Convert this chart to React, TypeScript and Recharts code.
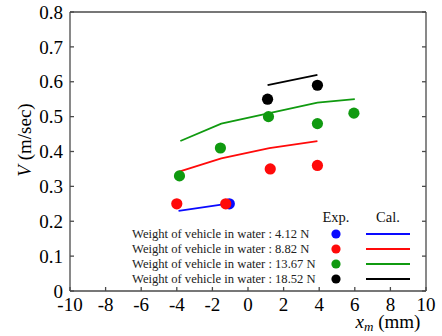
import { ComposedChart, Scatter, Line, XAxis, YAxis, CartesianGrid } from "recharts";

const xTicks = [-10, -8, -6, -4, -2, 0, 2, 4, 6, 8, 10];
const yTicks = [0, 0.1, 0.2, 0.3, 0.4, 0.5, 0.6, 0.7, 0.8];

// measured points (Exp.)
const exp412 = [{ x: -1.05, y: 0.25 }];
const exp882 = [
  { x: -4.0, y: 0.25 },
  { x: -1.25, y: 0.25 },
  { x: 1.25, y: 0.35 },
  { x: 3.9, y: 0.36 },
];
const exp1367 = [
  { x: -3.85, y: 0.33 },
  { x: -1.55, y: 0.41 },
  { x: 1.15, y: 0.5 },
  { x: 3.9, y: 0.48 },
  { x: 5.95, y: 0.51 },
];
const exp1852 = [
  { x: 1.1, y: 0.55 },
  { x: 3.9, y: 0.59 },
];

// calculated curves (Cal.)
const cal412 = [
  { x: -3.9, y: 0.23 },
  { x: -1.2, y: 0.25 },
];
const cal882 = [
  { x: -4.0, y: 0.34 },
  { x: -1.5, y: 0.38 },
  { x: 1.2, y: 0.41 },
  { x: 3.9, y: 0.43 },
];
const cal1367 = [
  { x: -3.8, y: 0.43 },
  { x: -1.5, y: 0.48 },
  { x: 1.2, y: 0.51 },
  { x: 3.9, y: 0.54 },
  { x: 6.0, y: 0.55 },
];
const cal1852 = [
  { x: 1.1, y: 0.59 },
  { x: 3.9, y: 0.62 },
];

const legendLabels = [
  "Weight of vehicle in water : 4.12 N",
  "Weight of vehicle in water : 8.82 N",
  "Weight of vehicle in water : 13.67 N",
  "Weight of vehicle in water : 18.52 N",
];

const BLUE = "#0a0aff";
const RED = "#ff0a0a";
const GREEN = "#109a10";
const BLACK = "#000000";
const colors = [BLUE, RED, GREEN, BLACK];

const FONT = "'Liberation Serif', 'Times New Roman', serif";
const AXIS = "#4a4a4a";

const dot = (color: string) => (props: any) =>
  <circle cx={props.cx} cy={props.cy} r={5.6} fill={color} />;

const series = [
  { exp: exp412, cal: cal412 },
  { exp: exp882, cal: cal882 },
  { exp: exp1367, cal: cal1367 },
  { exp: exp1852, cal: cal1852 },
];

export default function App() {
  const tickStyle = { fill: "#000", fontSize: 19, fontFamily: FONT };
  return (
    <div style={{ position: "fixed", left: 0, top: 0, width: 442, height: 336, background: "#fff" }}>
      <ComposedChart
        width={442}
        height={336}
        margin={{ top: 11, right: 15, left: 0, bottom: 0 }}
      >
        <CartesianGrid
          stroke="#c8c8c8"
          strokeDasharray="1 2"
          horizontalValues={yTicks}
          verticalValues={xTicks}
        />
        <XAxis
          xAxisId="b"
          type="number"
          dataKey="x"
          domain={[-10, 10]}
          ticks={xTicks}
          height={45}
          tickSize={-4}
          tickMargin={10.5}
          stroke={AXIS}
          strokeWidth={1.3}
          tick={tickStyle}
          allowDataOverflow
        />
        <XAxis
          xAxisId="t"
          orientation="top"
          type="number"
          domain={[-10, 10]}
          ticks={xTicks}
          height={1}
          tickSize={-4}
          tickFormatter={() => ""}
          stroke={AXIS}
          strokeWidth={1.3}
          allowDataOverflow
        />
        <YAxis
          yAxisId="l"
          type="number"
          dataKey="y"
          domain={[0, 0.8]}
          ticks={yTicks}
          width={70}
          tickSize={-4}
          tickMargin={11}
          stroke={AXIS}
          strokeWidth={1.3}
          tick={tickStyle}
          tickFormatter={(v: number) => (v === 0 ? "0" : v.toFixed(1))}
          allowDataOverflow
        />
        <YAxis
          yAxisId="r"
          orientation="right"
          type="number"
          domain={[0, 0.8]}
          ticks={yTicks}
          width={1}
          tickSize={-4}
          tickFormatter={() => ""}
          stroke={AXIS}
          strokeWidth={1.3}
          allowDataOverflow
        />
        {series.map((s, i) => (
          <Line
            key={"cal" + i}
            xAxisId="b"
            yAxisId="l"
            data={s.cal}
            dataKey="y"
            stroke={colors[i]}
            strokeWidth={1.8}
            dot={false}
            activeDot={false}
            type="linear"
            isAnimationActive={false}
          />
        ))}
        {series.map((s, i) => (
          <Scatter
            key={"exp" + i}
            xAxisId="b"
            yAxisId="l"
            data={s.exp}
            dataKey="y"
            fill={colors[i]}
            shape={dot(colors[i])}
            isAnimationActive={false}
          />
        ))}
      </ComposedChart>
      <svg
        width={442}
        height={336}
        style={{ position: "absolute", left: 0, top: 0, pointerEvents: "none" }}
      >
        <text
          transform="translate(31,140) rotate(-90)"
          textAnchor="middle"
          fontFamily={FONT}
          fontSize={19}
          fill="#000"
        >
          <tspan fontStyle="italic">V</tspan> (m/sec)
        </text>
        <text x={388} y={328} textAnchor="middle" fontFamily={FONT} fontSize={19} fill="#000">
          <tspan fontStyle="italic">x</tspan>
          <tspan fontStyle="italic" fontSize={13} dy={3}>m</tspan>
          <tspan dy={-3}> (mm)</tspan>
        </text>
        <text x={336} y={222} textAnchor="middle" fontFamily={FONT} fontSize={14.5} fill="#111">
          Exp.
        </text>
        <text x={388} y={222} textAnchor="middle" fontFamily={FONT} fontSize={14.5} fill="#111">
          Cal.
        </text>
        {legendLabels.map((lab, i) => {
          const cy = 234 + i * 15;
          return (
            <g key={lab}>
              <text x={132} y={cy + 4} fontFamily={FONT} fontSize={12.6} fill="#222">
                {lab}
              </text>
              <circle cx={336} cy={cy} r={4.6} fill={colors[i]} />
              <line x1={366} x2={410} y1={cy} y2={cy} stroke={colors[i]} strokeWidth={1.8} />
            </g>
          );
        })}
      </svg>
    </div>
  );
}
